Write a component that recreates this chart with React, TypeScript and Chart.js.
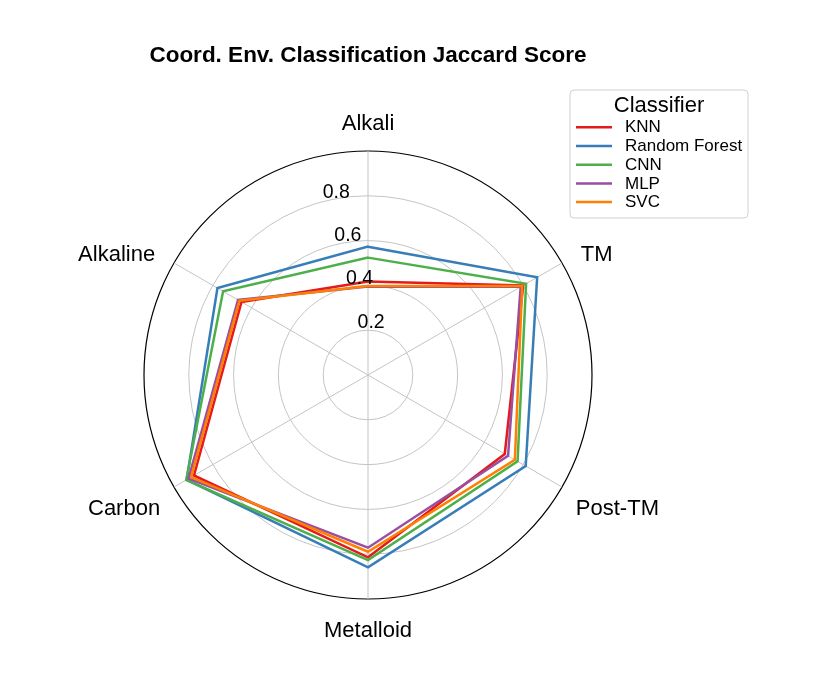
import React, { useEffect, useRef } from "react";
import { Chart, registerables } from "chart.js";

Chart.register(...registerables);

const categories = ["Alkali", "TM", "Post-TM", "Metalloid", "Carbon", "Alkaline"];
const seriesNames = ["KNN", "Random Forest", "CNN", "MLP", "SVC"];
const seriesColors = ["#e41a1c", "#377eb8", "#4daf4a", "#984ea3", "#ff7f00"];
const knnValues = [0.417, 0.80, 0.705, 0.814, 0.897, 0.652];
const rfValues = [0.573, 0.872, 0.813, 0.859, 0.935, 0.776];
const cnnValues = [0.524, 0.815, 0.771, 0.826, 0.937, 0.747];
const mlpValues = [0.395, 0.787, 0.722, 0.771, 0.925, 0.67];
const svcValues = [0.397, 0.795, 0.757, 0.789, 0.912, 0.663];
const tickValues = [0.2, 0.4, 0.6, 0.8];
const tickLabels = ["0.2", "0.4", "0.6", "0.8"];
const titleText = "Coord. Env. Classification Jaccard Score";
const legendTitle = "Classifier";

const FONT = "'Liberation Sans', Arial, Helvetica, sans-serif";

const decorPlugin = {
  id: "decor",
  afterDatasetsDraw(chart: any) {
    const ctx = chart.ctx;
    const scale = chart.scales.r;
    ctx.save();
    // tick labels
    ctx.fillStyle = "#000";
    ctx.font = `19.5px ${FONT}`;
    ctx.textAlign = "center";
    ctx.textBaseline = "middle";
    const a = (105 * Math.PI) / 180;
    tickValues.forEach((v, i) => {
      const r = scale.getDistanceFromCenterForValue(v);
      const x = scale.xCenter + r * Math.cos(a) + 14.7;
      const y = scale.yCenter - r * Math.sin(a) - 9.5;
      ctx.fillText(tickLabels[i], x, y);
    });
    // point labels
    ctx.font = `22px ${FONT}`;
    categories.forEach((lab, i) => {
      const p = scale.getPointPosition(i, scale.drawingArea + 16);
      const c = Math.cos(p.angle);
      const s = Math.sin(p.angle);
      let x = p.x;
      let y = p.y;
      ctx.textAlign = Math.abs(c) < 0.1 ? "center" : c > 0 ? "left" : "right";
      if (s < -0.9) {
        ctx.textBaseline = "bottom";
      } else if (s > 0.9) {
        ctx.textBaseline = "top";
        y += 5;
      } else if (s < 0) {
        ctx.textBaseline = "middle";
        x += c > 0 ? 5 : -5;
      } else {
        ctx.textBaseline = "top";
        y += 3;
      }
      ctx.fillText(lab, x, y);
    });
    ctx.restore();
  },
  afterDraw(chart: any) {
    const ctx = chart.ctx;
    ctx.save();
    // title
    ctx.fillStyle = "#000";
    ctx.font = `bold 22.5px ${FONT}`;
    ctx.textAlign = "center";
    ctx.textBaseline = "middle";
    ctx.fillText(titleText, chart.scales.r.xCenter, 56);
    // legend box
    const bx = 570, by = 90, bw = 178, bh = 128, rad = 4;
    ctx.beginPath();
    ctx.moveTo(bx + rad, by);
    ctx.lineTo(bx + bw - rad, by);
    ctx.arcTo(bx + bw, by, bx + bw, by + rad, rad);
    ctx.lineTo(bx + bw, by + bh - rad);
    ctx.arcTo(bx + bw, by + bh, bx + bw - rad, by + bh, rad);
    ctx.lineTo(bx + rad, by + bh);
    ctx.arcTo(bx, by + bh, bx, by + bh - rad, rad);
    ctx.lineTo(bx, by + rad);
    ctx.arcTo(bx, by, bx + rad, by, rad);
    ctx.closePath();
    ctx.fillStyle = "rgba(255,255,255,0.85)";
    ctx.fill();
    ctx.strokeStyle = "#d0d0d0";
    ctx.lineWidth = 1;
    ctx.stroke();
    ctx.fillStyle = "#000";
    ctx.font = `22px ${FONT}`;
    ctx.textAlign = "center";
    ctx.fillText(legendTitle, 659, 106);
    ctx.font = `17px ${FONT}`;
    ctx.textAlign = "left";
    seriesNames.forEach((name, i) => {
      const y = 127.3 + 18.7 * i;
      ctx.strokeStyle = seriesColors[i];
      ctx.lineWidth = 2.5;
      ctx.beginPath();
      ctx.moveTo(576, y);
      ctx.lineTo(612, y);
      ctx.stroke();
      ctx.fillStyle = "#000";
      ctx.fillText(name, 625, y + 0.5);
    });
    ctx.restore();
  },
};

export default function App() {
  const ref = useRef<HTMLCanvasElement>(null);
  useEffect(() => {
    if (!ref.current) return;
    const values = [knnValues, rfValues, cnnValues, mlpValues, svcValues];
    const chart = new Chart(ref.current, {
      type: "radar",
      data: {
        labels: categories,
        datasets: values.map((d, i) => ({
          label: seriesNames[i],
          data: d,
          borderColor: seriesColors[i],
          backgroundColor: seriesColors[i],
          borderWidth: 2.5,
          pointRadius: 0,
          pointHoverRadius: 0,
          fill: false,
          tension: 0,
          order: values.length - i,
        })),
      },
      options: {
        responsive: false,
        animation: false,
        devicePixelRatio: 1,
        layout: { padding: { left: 144, right: 238, top: 151, bottom: 96 } },
        plugins: {
          legend: { display: false },
          title: { display: false },
          tooltip: { enabled: false },
        },
        scales: {
          r: {
            min: 0,
            max: 1,
            ticks: { stepSize: 0.2, display: false },
            pointLabels: { display: false },
            grid: {
              circular: true,
              color: (c: any) => (c.tick && c.tick.value > 0.99 ? "#000000" : "#c4c4c4"),
              lineWidth: (c: any) => (c.tick && c.tick.value > 0.99 ? 1.2 : 1),
            },
            angleLines: { color: "#c4c4c4", lineWidth: 1 },
          },
        },
      },
      plugins: [decorPlugin],
    });
    return () => chart.destroy();
  }, []);
  return (
    <div style={{ position: "absolute", left: 0, top: 0, width: 830, height: 695, background: "#fff" }}>
      <canvas ref={ref} width={830} height={695} />
    </div>
  );
}
